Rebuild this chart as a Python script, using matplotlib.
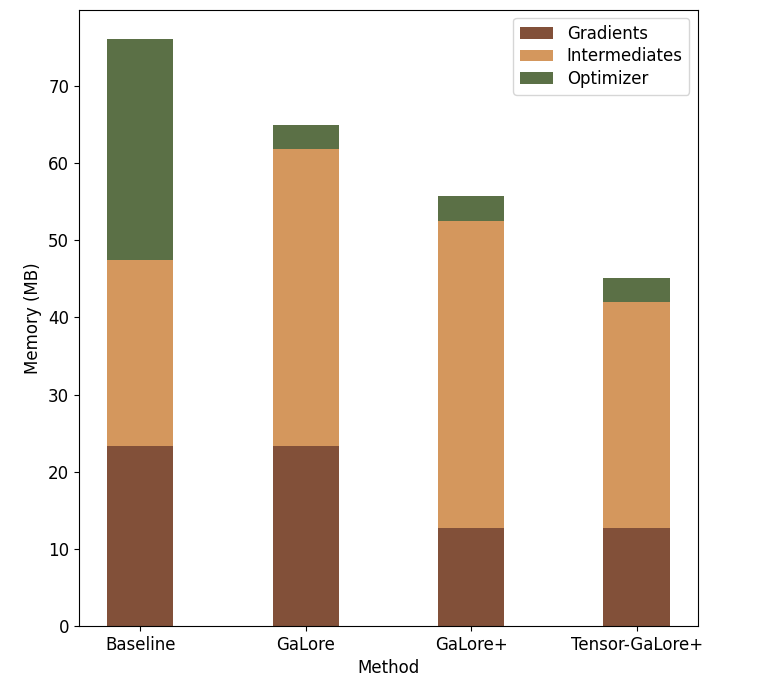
import numpy as np
import matplotlib.pyplot as plt

methods = ["Baseline", "GaLore", "GaLore+", "Tensor-GaLore+"]
gradients = [23.4, 23.4, 12.7, 12.7]
intermediates = [24.0, 38.4, 39.8, 29.3]
optimizer = [28.7, 3.1, 3.2, 3.1]

colors = ["#825039", "#D4975D", "#5B7046"]

plt.rcParams["font.size"] = 12

fig, ax = plt.subplots(figsize=(7.66, 6.88), dpi=100)
fig.subplots_adjust(left=0.103, right=0.911, top=0.986, bottom=0.09)

x = np.arange(len(methods))
w = 0.4
g = np.array(gradients)
i = np.array(intermediates)
o = np.array(optimizer)

ax.bar(x, g, w, color=colors[0], label="Gradients")
ax.bar(x, i, w, bottom=g, color=colors[1], label="Intermediates")
ax.bar(x, o, w, bottom=g + i, color=colors[2], label="Optimizer")

ax.set_xticks(x)
ax.set_xticklabels(methods)
ax.set_xlabel("Method")
ax.set_ylabel("Memory (MB)")
ax.legend(loc="upper right", labelspacing=0.28)

fig.savefig("out.png", dpi=100)
